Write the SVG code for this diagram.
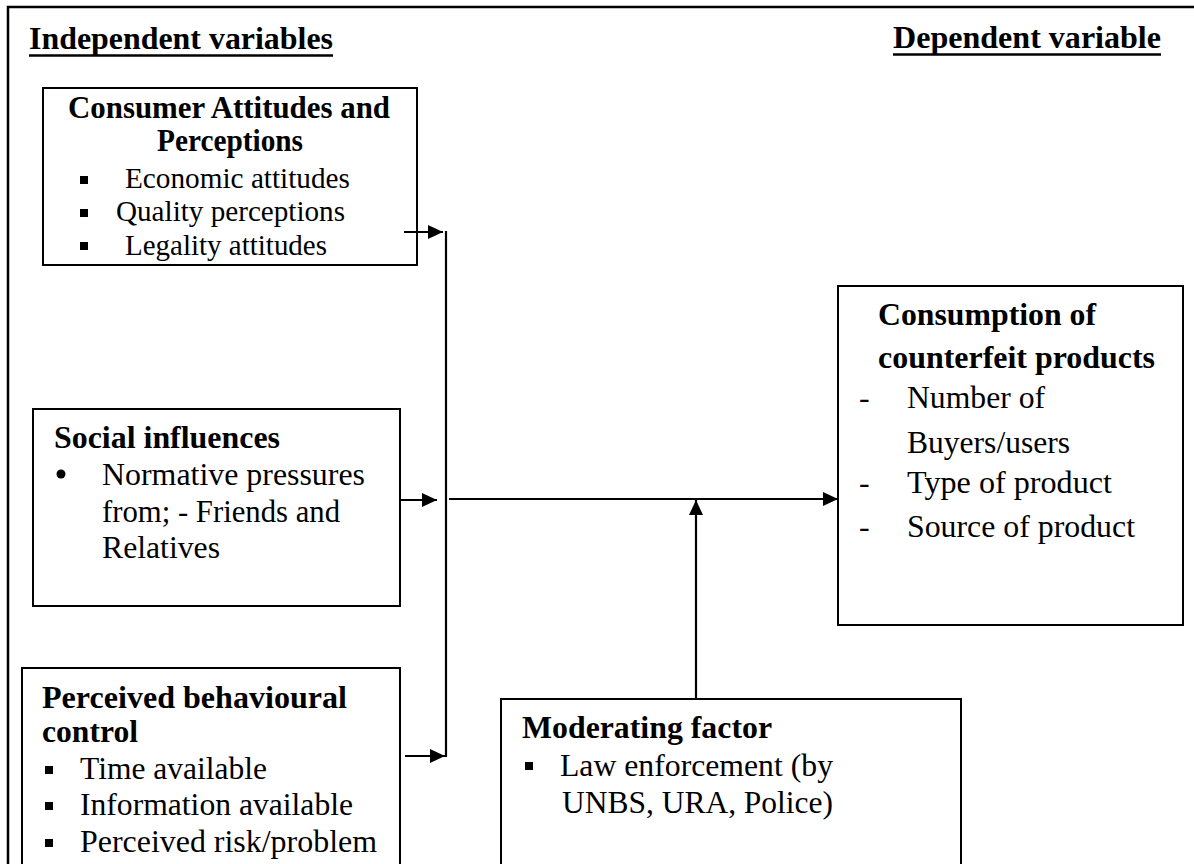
<svg xmlns="http://www.w3.org/2000/svg" width="1194" height="864" viewBox="0 0 1194 864">
<style>
.box{fill:#fff;stroke:#000;stroke-width:2}
.t{font-family:"Liberation Serif","Times New Roman",serif;fill:#000}
.b{font-weight:bold}
.con{stroke:#000;stroke-width:2.2;fill:none}
.sq{fill:#000}
</style>
<defs>
<marker id="ah" viewBox="0 0 15 14" refX="15" refY="7" markerWidth="15" markerHeight="14" markerUnits="userSpaceOnUse" orient="auto">
<path d="M0,0 L15,7 L0,14 z" fill="#000"/>
</marker>
</defs>
<rect x="0" y="0" width="1194" height="864" fill="#fff"/>
<rect x="8" y="7" width="1250" height="950" fill="none" stroke="#000" stroke-width="2.5"/>

<g id="header-independent">
<text class="t b" x="29" y="49" font-size="32" textLength="304" lengthAdjust="spacingAndGlyphs">Independent variables</text>
<line x1="29" y1="55.5" x2="333" y2="55.5" stroke="#000" stroke-width="2.5"/>
</g>
<g id="header-dependent">
<text class="t b" x="893" y="48" font-size="32" textLength="268" lengthAdjust="spacingAndGlyphs">Dependent variable</text>
<line x1="893" y1="54.5" x2="1161" y2="54.5" stroke="#000" stroke-width="2.5"/>
</g>

<g id="node-consumer-attitudes">
<rect class="box" x="43" y="88" width="374" height="177"/>
<text class="t b" x="68" y="118" font-size="30.5" textLength="322" lengthAdjust="spacingAndGlyphs">Consumer Attitudes and</text>
<text class="t b" x="157" y="151" font-size="30.5" textLength="146" lengthAdjust="spacingAndGlyphs">Perceptions</text>
<rect class="sq" x="80" y="176" width="8" height="8"/>
<text class="t" x="125" y="188" font-size="29" textLength="225" lengthAdjust="spacingAndGlyphs">Economic attitudes</text>
<rect class="sq" x="80" y="209" width="8" height="8"/>
<text class="t" x="116" y="221" font-size="29" textLength="229" lengthAdjust="spacingAndGlyphs">Quality perceptions</text>
<rect class="sq" x="80" y="242" width="8" height="8"/>
<text class="t" x="125" y="255" font-size="29" textLength="202" lengthAdjust="spacingAndGlyphs">Legality attitudes</text>
</g>

<g id="node-social-influences">
<rect class="box" x="33" y="409" width="367" height="197"/>
<text class="t b" x="54" y="448" font-size="32" textLength="226" lengthAdjust="spacingAndGlyphs">Social influences</text>
<circle cx="61" cy="474" r="4.5"/>
<text class="t" x="102" y="485" font-size="32" textLength="263" lengthAdjust="spacingAndGlyphs">Normative pressures</text>
<text class="t" x="102" y="522" font-size="32" textLength="238" lengthAdjust="spacingAndGlyphs">from; - Friends and</text>
<text class="t" x="102" y="558" font-size="32" textLength="118" lengthAdjust="spacingAndGlyphs">Relatives</text>
</g>

<g id="node-perceived-control">
<rect class="box" x="22" y="668" width="378" height="250"/>
<text class="t b" x="42" y="708" font-size="32" textLength="305" lengthAdjust="spacingAndGlyphs">Perceived behavioural</text>
<text class="t b" x="42" y="742" font-size="32" textLength="96" lengthAdjust="spacingAndGlyphs">control</text>
<rect class="sq" x="45" y="766" width="8" height="8"/>
<text class="t" x="80" y="779" font-size="32" textLength="187" lengthAdjust="spacingAndGlyphs">Time available</text>
<rect class="sq" x="45" y="802" width="8" height="8"/>
<text class="t" x="80" y="815" font-size="32" textLength="273" lengthAdjust="spacingAndGlyphs">Information available</text>
<rect class="sq" x="45" y="839" width="8" height="8"/>
<text class="t" x="80" y="852" font-size="32" textLength="297" lengthAdjust="spacingAndGlyphs">Perceived risk/problem</text>
</g>

<g id="node-moderating">
<rect class="box" x="501" y="699" width="460" height="250"/>
<text class="t b" x="522" y="738" font-size="32" textLength="250" lengthAdjust="spacingAndGlyphs">Moderating factor</text>
<rect class="sq" x="525" y="762" width="8" height="8"/>
<text class="t" x="560" y="776" font-size="32" textLength="273" lengthAdjust="spacingAndGlyphs">Law enforcement (by</text>
<text class="t" x="562" y="813" font-size="32" textLength="271" lengthAdjust="spacingAndGlyphs">UNBS, URA, Police)</text>
</g>

<g id="node-consumption">
<rect class="box" x="838" y="286" width="345" height="339"/>
<text class="t b" x="878" y="325" font-size="32" textLength="218" lengthAdjust="spacingAndGlyphs">Consumption of</text>
<text class="t b" x="878" y="368" font-size="32" textLength="277" lengthAdjust="spacingAndGlyphs">counterfeit products</text>
<text class="t" x="859" y="408" font-size="32">-</text>
<text class="t" x="907" y="408" font-size="32" textLength="138" lengthAdjust="spacingAndGlyphs">Number of</text>
<text class="t" x="907" y="453" font-size="32" textLength="163" lengthAdjust="spacingAndGlyphs">Buyers/users</text>
<text class="t" x="859" y="493" font-size="32">-</text>
<text class="t" x="907" y="493" font-size="32" textLength="205" lengthAdjust="spacingAndGlyphs">Type of product</text>
<text class="t" x="859" y="537" font-size="32">-</text>
<text class="t" x="907" y="537" font-size="32" textLength="228" lengthAdjust="spacingAndGlyphs">Source of product</text>
</g>

<g id="connectors">
<line class="con" x1="404" y1="232" x2="443" y2="232" marker-end="url(#ah)"/>
<line class="con" x1="446" y1="231" x2="446" y2="757"/>
<line class="con" x1="400" y1="500" x2="437" y2="500" marker-end="url(#ah)"/>
<line class="con" x1="405" y1="756" x2="445" y2="756" marker-end="url(#ah)"/>
<line class="con" x1="449" y1="499" x2="838" y2="499" marker-end="url(#ah)"/>
<line class="con" x1="696" y1="699" x2="696" y2="500" marker-end="url(#ah)"/>
</g>
</svg>
